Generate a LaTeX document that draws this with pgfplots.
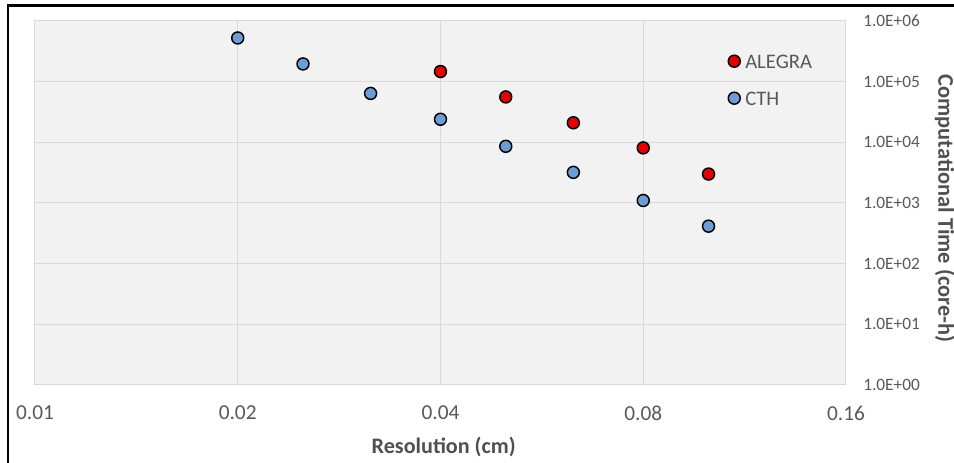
\documentclass[border=0pt]{standalone}
\usepackage{fontspec}
\setmainfont{Carlito}
\usepackage{pgfplots}
\pgfplotsset{compat=1.18}
\definecolor{plotbg}{RGB}{242,242,242}
\definecolor{gridc}{RGB}{217,217,217}
\definecolor{txtc}{RGB}{89,89,89}
\definecolor{lblc}{RGB}{80,80,80}
\definecolor{alegra}{RGB}{228,0,0}
\definecolor{cth}{RGB}{108,157,212}
\begin{document}
\begin{tikzpicture}
\useasboundingbox (0,0) rectangle (715.5pt,347.25pt);
\fill[white] (0,0) rectangle (715.5pt,347.25pt);
\begin{axis}[
  at={(26.25pt,58.5pt)}, anchor=south west,
  scale only axis, width=608.25pt, height=273pt,
  xmode=log, log basis x=2, ymode=log,
  xmin=0.01, xmax=0.16, ymin=1, ymax=1e6,
  xtick={0.01,0.02,0.04,0.08,0.16},
  xticklabels={0.01,0.02,0.04,0.08,0.16},
  ytick={1,10,100,1000,10000,100000,1000000},
  yticklabels={1.0E+00,1.0E+01,1.0E+02,1.0E+03,1.0E+04,1.0E+05,1.0E+06},
  minor tick num=0, yminorticks=false, xminorticks=false,
  major tick length=0pt,
  axis background/.style={fill=plotbg},
  axis line style={draw=gridc, line width=0.75pt},
  grid=major, major grid style={draw=gridc, line width=0.75pt},
  yticklabel pos=right,
  xticklabel style={font=\fontsize{16}{19}\selectfont, text=txtc, anchor=center, yshift=-21pt, inner sep=0pt},
  yticklabel style={font=\fontsize{13}{15}\selectfont, text=txtc, anchor=west, inner sep=0pt, xshift=12.75pt},
  xlabel={Resolution (cm)},
  xlabel style={font=\fontsize{16.6}{19}\bfseries, text=lblc, at={(axis description cs:0.504,-0.17)}, anchor=center},
  ylabel={Computational Time (core-h)},
  ylabel style={font=\fontsize{16.8}{19}\bfseries, text=lblc, at={(axis description cs:1.122,0.485)}, anchor=center, rotate=180},
  legend style={at={(axis description cs:0.8545,0.9095)}, anchor=north west, draw=none, fill=none,
    font=\fontsize{15.5}{18}\selectfont, text=txtc, row sep=17.25pt, column sep=3.75pt, inner sep=0pt,
    nodes={inner sep=0pt, text height=10.5pt, text depth=0pt}},
  legend cell align=left,
  legend image code/.code={\draw[#1, mark size=4.5pt] plot[only marks] coordinates {(0pt,0pt)};},
]
\addplot[only marks, mark=*, mark size=4.5pt, mark options={fill=alegra, draw=black, line width=1.1pt}]
  coordinates {(0.04,1.47e5) (0.05,5.6e4) (0.063,2.1e4) (0.08,8.1e3) (0.1,3.0e3)};
\addlegendentry{ALEGRA}
\addplot[only marks, mark=*, mark size=4.5pt, mark options={fill=cth, draw=black, line width=1.1pt}]
  coordinates {(0.02,5.25e5) (0.025,1.96e5) (0.0315,6.4e4) (0.04,2.4e4) (0.05,8.6e3) (0.063,3.2e3) (0.08,1.1e3) (0.1,415)};
\addlegendentry{CTH}
\end{axis}
\draw[black, line width=1.9pt] (6pt,0pt) -- (6pt,343.1pt) -- (715.5pt,343.1pt);
\end{tikzpicture}
\end{document}
